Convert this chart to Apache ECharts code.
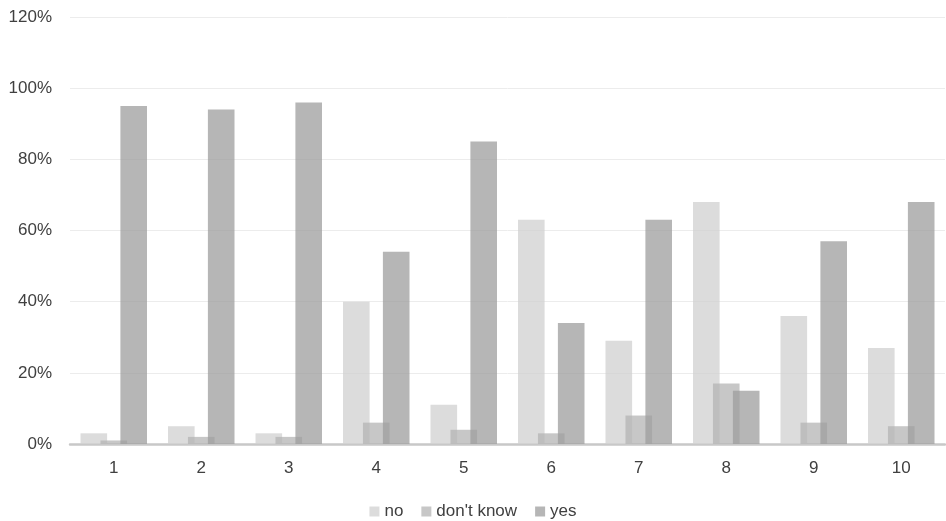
<!DOCTYPE html>
<html><head><meta charset="utf-8">
<script src="https://cdn.jsdelivr.net/npm/echarts@6/dist/echarts.min.js"></script>
<style>html,body{margin:0;padding:0;background:#fff}#c{width:946px;height:521px}</style>
</head><body><div id="c"></div>
<script>
var categories = ['1','2','3','4','5','6','7','8','9','10'];
var noVals = [3,5,3,40,11,63,29,68,36,27];
var dkVals = [1,2,2,6,4,3,8,17,6,5];
var yesVals = [95,94,96,54,85,34,63,15,57,68];
var seriesNames = ['no', "don't know", 'yes'];

var chart = echarts.init(document.getElementById('c'));
var font = 'Arial, "Liberation Sans", sans-serif';
chart.setOption({
  animation: false,
  grid: {left: 70, right: 1, top: 17, bottom: 77},
  legend: {
    top: 498, left: 'center', itemWidth: 10, itemHeight: 10, itemGap: 18,
    icon: 'rect',
    textStyle: {fontFamily: font, fontSize: 17, color: '#404040', padding: [0, 0, 0, 0]},
    data: seriesNames
  },
  xAxis: {
    type: 'category', data: categories,
    axisLine: {lineStyle: {color: '#c8c8c8', width: 2.5}},
    axisTick: {show: false},
    axisLabel: {fontFamily: font, fontSize: 17, color: '#404040', margin: 16}
  },
  yAxis: {
    type: 'value', min: 0, max: 120, interval: 20,
    axisLine: {show: false}, axisTick: {show: false},
    splitLine: {lineStyle: {color: '#ececec', width: 1}},
    axisLabel: {fontFamily: font, fontSize: 17, color: '#404040', margin: 18, formatter: '{value}%'}
  },
  series: [
    {name: seriesNames[0], type: 'bar', data: noVals, barGap: '-25%', barCategoryGap: '24%',
     itemStyle: {color: 'rgba(208,208,208,0.75)'}},
    {name: seriesNames[1], type: 'bar', data: dkVals,
     itemStyle: {color: 'rgba(180,180,180,0.75)'}},
    {name: seriesNames[2], type: 'bar', data: yesVals,
     itemStyle: {color: 'rgba(158,158,158,0.75)'}}
  ]
});
</script></body></html>
